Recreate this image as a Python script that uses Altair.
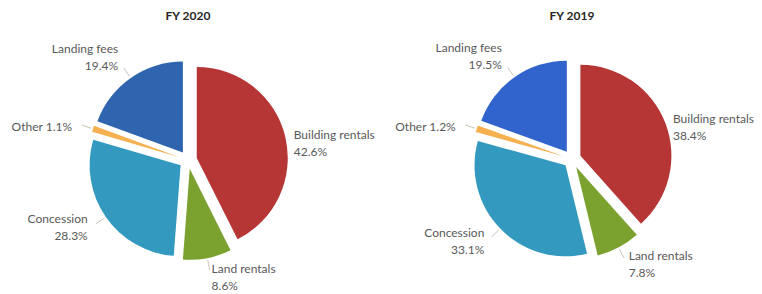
import altair as alt
import pandas as pd

# ---- data ----
years = ["FY 2020", "FY 2019"]
categories = ["Building rentals", "Land rentals", "Concession", "Other", "Landing fees"]
values_2020 = [42.6, 8.6, 28.3, 1.1, 19.4]
values_2019 = [38.4, 7.8, 33.1, 1.2, 19.5]

rows = []
for yr, vals in zip(years, [values_2020, values_2019]):
    for i, (c, v) in enumerate(zip(categories, vals)):
        rows.append({"year": yr, "cat": c, "value": v, "order": i})
df = pd.DataFrame(rows)
title_df = pd.DataFrame({"year": years})

# ---- layout constants ----
R = 91
EXPLODE = 9
LABEL_R = 122
cx_expr = "datum.year == 'FY 2020' ? 180 : 564"
cy_expr = "datum.year == 'FY 2020' ? 152 : 151"
upper_right = "(sin(datum.mid) > 0 && cos(datum.mid) > 0)"

color_domain = ["Building rentals", "Land rentals", "Concession", "Other",
                "Landing fees FY 2020", "Landing fees FY 2019"]
color_range = ["#B63535", "#7BA22E", "#3399BF", "#F5B050", "#2F65AE", "#3063CC"]

base = alt.Chart(df).transform_joinaggregate(
    total="sum(value)", groupby=["year"]
).transform_window(
    cum="sum(value)", sort=[alt.SortField("order")], groupby=["year"], frame=[None, 0]
).transform_calculate(
    t0="2*PI*(datum.cum - datum.value)/datum.total",
    t1="2*PI*datum.cum/datum.total",
).transform_calculate(
    mid="(datum.t0 + datum.t1)/2",
    cx=cx_expr,
    cy=cy_expr,
).transform_calculate(
    px=f"datum.cx + {EXPLODE}*sin(datum.mid)",
    py=f"datum.cy - {EXPLODE}*cos(datum.mid)",
    lx=f"datum.cx + {LABEL_R}*sin(datum.mid) + ({upper_right} ? -13 : 0)",
    ly=(f"datum.cy - {LABEL_R}*cos(datum.mid) + "
        f"(datum.cat == 'Other' ? 5 : ({upper_right} ? 3 : -11))"),
    a1x=f"datum.cx + {R + EXPLODE + 2}*sin(datum.mid)",
    a1y=f"datum.cy - {R + EXPLODE + 2}*cos(datum.mid)",
    a2x=f"datum.cx + {R + 21}*sin(datum.mid)",
    a2y=f"datum.cy - {R + 21}*cos(datum.mid)",
    label="datum.cat == 'Other' ? datum.cat + '  ' + format(datum.value, '.1f') + '%' : datum.cat + '\\n' + format(datum.value, '.1f') + '%'",
    ckey="datum.cat == 'Landing fees' ? datum.cat + ' ' + datum.year : datum.cat",
    side="sin(datum.mid) >= 0 ? 'right' : 'left'",
)

arcs = base.mark_arc(outerRadius=R, innerRadius=0).encode(
    theta=alt.Theta("t0:Q", scale=None, stack=None),
    theta2="t1:Q",
    x=alt.X("px:Q", scale=None, axis=None),
    y=alt.Y("py:Q", scale=None, axis=None),
    color=alt.Color("ckey:N", scale=alt.Scale(domain=color_domain, range=color_range), legend=None),
)

leaders = base.transform_filter(f"!{upper_right}").mark_rule(color="#C9C3B8", strokeWidth=1).encode(
    x=alt.X("a1x:Q", scale=None),
    y=alt.Y("a1y:Q", scale=None),
    x2="a2x:Q",
    y2="a2y:Q",
)

text_props = dict(font="Lato", fontSize=12, color="#595959", lineBreak="\n",
                  lineHeight=17, baseline="middle")

labels_right = base.transform_filter("datum.side == 'right'").mark_text(
    align="left", **text_props
).encode(
    x=alt.X("lx:Q", scale=None),
    y=alt.Y("ly:Q", scale=None),
    text="label:N",
)

labels_left = base.transform_filter("datum.side == 'left'").mark_text(
    align="right", **text_props
).encode(
    x=alt.X("lx:Q", scale=None),
    y=alt.Y("ly:Q", scale=None),
    text="label:N",
)

titles = alt.Chart(title_df).transform_calculate(
    tx=cx_expr
).mark_text(font="Lato", fontSize=12, fontWeight="bold", color="#262626",
            align="center", baseline="middle").encode(
    x=alt.X("tx:Q", scale=None),
    y=alt.value(8),
    text="year:N",
)

chart = alt.layer(arcs, leaders, labels_right, labels_left, titles).properties(
    width=746, height=286, padding=0, autosize=alt.AutoSizeParams(type="none")
).configure_view(stroke=None)

chart.save("out.html", embed_options={"renderer": "svg", "actions": False})
